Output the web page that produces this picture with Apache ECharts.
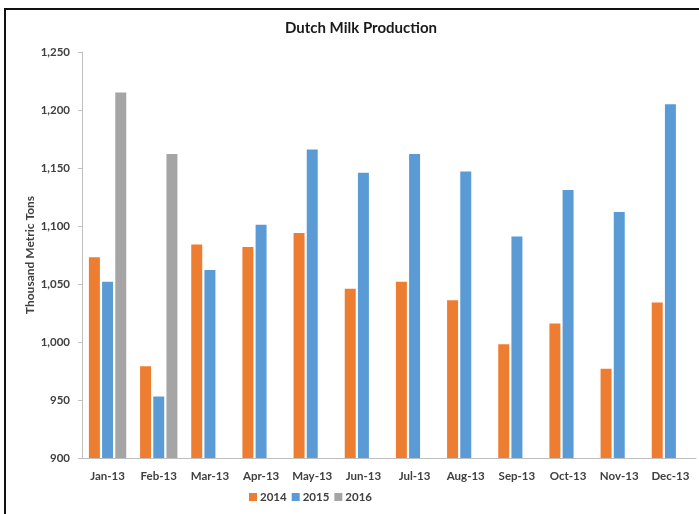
<!DOCTYPE html>
<html>
<head>
<meta charset="utf-8">
<script src="https://cdn.jsdelivr.net/npm/echarts@6/dist/echarts.min.js"></script>
<style>
  html, body { margin: 0; padding: 0; background: #fff; }
  #frame { position: absolute; left: 4px; top: 8px; width: 700px; height: 510px;
           border-top: 2px solid #111; border-left: 2px solid #111; }
  #chart { position: absolute; left: 0; top: 0; width: 699px; height: 514px; }
</style>
</head>
<body>
<div id="frame"></div>
<div id="chart"></div>
<script>
const months = ["Jan-13", "Feb-13", "Mar-13", "Apr-13", "May-13", "Jun-13",
                "Jul-13", "Aug-13", "Sep-13", "Oct-13", "Nov-13", "Dec-13"];
const y2014 = [1073, 979, 1084, 1082, 1094, 1046, 1052, 1036, 998, 1016, 977, 1034];
const y2015 = [1052, 953, 1062, 1101, 1166, 1146, 1162, 1147, 1091, 1131, 1112, 1205];
const y2016 = [1215, 1162, null, null, null, null, null, null, null, null, null, null];
const seriesNames = ["2014", "2015", "2016"];
const colors = ["#ED7D31", "#5B9BD5", "#A5A5A5"];

const font = "Lato, 'Open Sans', sans-serif";
const chart = echarts.init(document.getElementById("chart"));

const makeBar = (name, data, color) => ({
  name: name,
  type: "bar",
  data: data,
  barGap: "20%",
  barCategoryGap: "27%",
  itemStyle: { color: color },
  emphasis: { disabled: true }
});

chart.setOption({
  animation: false,
  textStyle: { fontFamily: font },
  title: {
    text: "Dutch Milk Production",
    left: 280,
    top: 16,
    textStyle: { fontSize: 15, fontWeight: "bold", color: "#1a1a1a", fontFamily: font }
  },
  legend: {
    data: seriesNames,
    bottom: 6,
    left: 244,
    itemWidth: 8,
    itemHeight: 8,
    itemGap: 5,
    icon: "rect",
    textStyle: { fontSize: 11.5, fontWeight: "bold", color: "#404040", padding: [0, 0, 0, -2] }
  },
  grid: {
    left: 82,
    right: 3,
    top: 52,
    bottom: 56,
    outerBoundsMode: "none"
  },
  xAxis: {
    type: "category",
    data: months,
    axisLine: { lineStyle: { color: "#bfbfbf" } },
    axisTick: { length: 4, lineStyle: { color: "#bfbfbf" } },
    axisLabel: { fontSize: 11.5, fontWeight: "bold", color: "#404040", margin: 12, interval: 0 }
  },
  yAxis: {
    type: "value",
    min: 900,
    max: 1250,
    interval: 50,
    name: "Thousand Metric Tons",
    nameLocation: "middle",
    nameRotate: 90,
    nameGap: 46,
    nameMoveOverlap: false,
    nameTextStyle: { fontSize: 12, fontWeight: "bold", color: "#404040" },
    splitLine: { show: false },
    axisLine: { show: true, lineStyle: { color: "#bfbfbf" } },
    axisTick: { show: true, length: 4, lineStyle: { color: "#bfbfbf" } },
    axisLabel: {
      fontSize: 11.5, fontWeight: "bold", color: "#404040", margin: 12,
      formatter: v => v.toLocaleString("en-US")
    }
  },
  series: [
    makeBar(seriesNames[0], y2014, colors[0]),
    makeBar(seriesNames[1], y2015, colors[1]),
    makeBar(seriesNames[2], y2016, colors[2])
  ]
});
</script>
</body>
</html>
